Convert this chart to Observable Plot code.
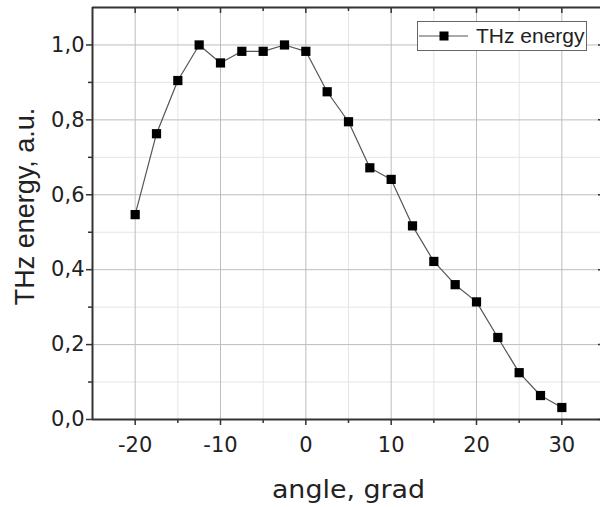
<!DOCTYPE html>
<html>
<head>
<meta charset="utf-8">
<script src="https://cdn.jsdelivr.net/npm/d3@7"></script>
<script src="https://cdn.jsdelivr.net/npm/@observablehq/plot@0.6"></script>
<style>
  html, body { margin: 0; padding: 0; background: #fff; overflow: hidden; }
  #wrap { position: relative; width: 600px; height: 507px; font-family: "Liberation Sans", Arial, sans-serif; }
  #legend { position: absolute; left: 417px; top: 21px; width: 170px; height: 30px; border: 1px solid #666; background: #fff; display: flex; align-items: center; box-sizing: border-box; }
  #legend span { font-size: 21px; color: #222; margin-left: 4px; }
</style>
</head>
<body>
<div id="wrap"></div>
<script>
// ---- data ----
const angles = [-20, -17.5, -15, -12.5, -10, -7.5, -5, -2.5, 0, 2.5, 5, 7.5, 10, 12.5, 15, 17.5, 20, 22.5, 25, 27.5, 30];
const energy = [0.547, 0.763, 0.905, 1.0, 0.952, 0.983, 0.983, 1.0, 0.983, 0.875, 0.795, 0.672, 0.641, 0.517, 0.422, 0.36, 0.314, 0.219, 0.125, 0.064, 0.032];
const xMajor = [-20, -10, 0, 10, 20, 30];
const xMinor = [-15, -5, 5, 15, 25];
const yMajor = [0, 0.2, 0.4, 0.6, 0.8, 1.0];
const yMinor = [0.1, 0.3, 0.5, 0.7, 0.9];
const xDomain = [-25, 35];
const yDomain = [0, 1.1];
const seriesName = "THz energy";
const xLabel = "angle, grad";
const yLabel = "THz energy, a.u.";

const data = angles.map((a, i) => ({angle: a, value: energy[i]}));

const W = 600, H = 507, mL = 92, mR = -4, mT = 7, mB = 88;
const pw = W - mL - mR, ph = H - mT - mB;
const fmtY = d => d.toFixed(1).replace(".", ",");
const fmtX = d => String(d);
const axisColor = "#333";
const wideFont = "DejaVu Sans, Verdana, sans-serif";

const chart = Plot.plot({
  width: W, height: H,
  marginLeft: mL, marginRight: mR, marginTop: mT, marginBottom: mB,
  style: {fontFamily: "Liberation Sans, Arial, sans-serif", background: "#fff", overflow: "hidden"},
  x: {domain: xDomain},
  y: {domain: yDomain},
  marks: [
    // grids
    Plot.gridX(xMinor, {stroke: "#e4e4e4", strokeOpacity: 1}),
    Plot.gridY(yMinor, {stroke: "#e4e4e4", strokeOpacity: 1}),
    Plot.gridX(xMajor, {stroke: "#bdbdbd", strokeOpacity: 1}),
    Plot.gridY(yMajor, {stroke: "#bdbdbd", strokeOpacity: 1}),
    // axes
    Plot.axisY({ticks: yMajor, tickFormat: fmtY, tickSize: 6, tickPadding: 2, fontSize: 21, fontFamily: wideFont, label: null, color: "#222", stroke: axisColor, strokeWidth: 1.5}),
    Plot.axisY({ticks: yMinor, tickFormat: () => "", tickSize: 4, label: null, stroke: axisColor, strokeWidth: 1.5}),
    Plot.axisX({ticks: xMajor, tickFormat: fmtX, tickSize: 6, tickPadding: 12, fontSize: 21, fontFamily: wideFont, label: null, color: "#222", stroke: axisColor, strokeWidth: 1.5}),
    Plot.axisX({ticks: xMinor, tickSize: 4, tickFormat: () => "", label: null, stroke: axisColor, strokeWidth: 1.5}),
    // inward ticks on top and right
    Plot.ruleX(xMajor, {x: d => d, insetBottom: ph - 6, stroke: axisColor, strokeWidth: 1.5}),
    Plot.ruleX(xMinor, {x: d => d, insetBottom: ph - 4, stroke: axisColor, strokeWidth: 1.5}),
    Plot.ruleY(yMajor, {y: d => d, insetLeft: pw - 6, stroke: axisColor, strokeWidth: 1.5}),
    Plot.ruleY(yMinor, {y: d => d, insetLeft: pw - 4, stroke: axisColor, strokeWidth: 1.5}),
    // frame
    Plot.ruleX([xDomain[0]], {stroke: axisColor, strokeWidth: 2}),
    Plot.ruleX([xDomain[1]], {stroke: axisColor, strokeWidth: 2}),
    Plot.ruleY([yDomain[0]], {stroke: axisColor, strokeWidth: 2}),
    Plot.ruleY([yDomain[1]], {stroke: axisColor, strokeWidth: 2}),
    // data
    Plot.line(data, {x: "angle", y: "value", stroke: "#555", strokeWidth: 1.2}),
    Plot.dot(data, {x: "angle", y: "value", symbol: "square", r: 5.2, fill: "#000", stroke: "none"}),
    // axis titles
    Plot.text([xLabel], {frameAnchor: "bottom", lineAnchor: "top", textAnchor: "middle", dy: 61, fontSize: 24, fontFamily: wideFont, fill: "#222"}),
    Plot.text([yLabel], {frameAnchor: "left", textAnchor: "middle", lineAnchor: "middle", dx: -67, dy: -7, rotate: -90, fontSize: 27, fill: "#222"})
  ]
});

// slightly widen the x-axis title (reference lettering is wide)
chart.querySelectorAll("text").forEach(el => {
  if (el.textContent === xLabel) {
    const t = el.getAttribute("transform") || "";
    el.setAttribute("transform", t + " scale(1.12,1)");
  }
});

const wrap = document.getElementById("wrap");
wrap.appendChild(chart);

// legend
const legend = document.createElement("div");
legend.id = "legend";
legend.innerHTML = `<svg width="54" height="28" style="display:block;margin-left:0px">
  <line x1="1" x2="50" y1="14" y2="14" stroke="#555" stroke-width="1.2"></line>
  <rect x="21.5" y="9.5" width="9" height="9" fill="#000"></rect>
</svg><span>${seriesName}</span>`;
wrap.appendChild(legend);
</script>
</body>
</html>
